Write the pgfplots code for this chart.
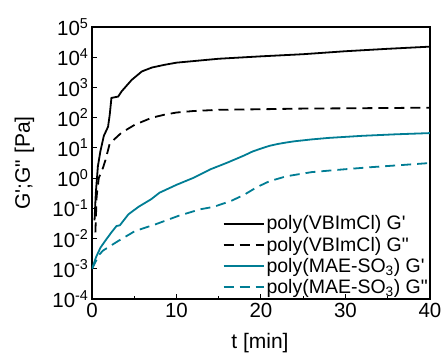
\documentclass[border=0pt]{standalone}
\usepackage{pgfplots}
\pgfplotsset{compat=1.18}
\usepackage{fontspec}
\setmainfont{Liberation Sans}
\definecolor{teal}{RGB}{0,125,148}

\begin{document}
\begin{tikzpicture}
\path[use as bounding box] (-92pt,-58pt) rectangle (352pt,299pt);
\begin{axis}[
  scale only axis,
  width=338pt, height=272pt,
  at={(0pt,0pt)}, anchor=south west,
  ymode=log, log basis y=10,
  xmin=0, xmax=40, ymin=1e-4, ymax=1e5,
  xtick={0,10,20,30,40},
  minor x tick num=1,
  ytick={1e-4,1e-3,1e-2,1e-1,1,1e1,1e2,1e3,1e4,1e5},
  yticklabels={10\textsuperscript{-4},10\textsuperscript{-3},10\textsuperscript{-2},10\textsuperscript{-1},10\textsuperscript{0},10\textsuperscript{1},10\textsuperscript{2},10\textsuperscript{3},10\textsuperscript{4},10\textsuperscript{5}},
  /pgf/number format/assume math mode=true,
  tick align=inside,
  xtick pos=bottom, ytick pos=left,
  major tick length=5pt, minor tick length=3pt,
  every tick/.style={line width=1pt, black},
  axis line style={line width=1.6pt},
  tick label style={font=\fontsize{20.5}{22}\selectfont},
  xticklabel style={yshift=-1pt},
  label style={font=\fontsize{21}{23}\selectfont},
  xlabel={t [min]},
  ylabel={G\textquotesingle;G\textquotedbl{} [Pa]},
  xlabel style={at={(axis description cs:0.497,-0.162)}, anchor=center},
  ylabel style={at={(axis description cs:-0.2,0.5)}, anchor=center},
  legend style={draw=none, fill=none, at={(1,0)}, anchor=south east,
    xshift=1pt, yshift=1pt,
    font=\fontsize{19.5}{21}\selectfont, row sep=1.5pt, inner sep=1pt},
  legend cell align=left,
  legend image code/.code={\draw[#1] plot coordinates {(0pt,0pt) (40pt,0pt)};},
  every axis plot/.append style={line width=1.8pt},
]
% poly(VBImCl) storage modulus
\addplot[black, solid] coordinates {
 (0.3,0.04) (0.45,0.32) (0.7,2.5) (1.0,7.9) (1.4,25) (1.9,50) (2.1,126)
 (2.3,450) (3.1,500) (3.5,740) (4.7,1780) (5.9,3390) (7.1,4570) (8.6,5620)
 (10,6610) (15,8910) (20,10700) (25,12600) (30,15800) (35,19000) (40,22400)};
% poly(VBImCl) loss modulus
\addplot[black, dash pattern=on 10pt off 6pt] coordinates {
 (0.4,0.016) (0.55,0.25) (0.8,1.0) (1.3,2.2) (1.6,4.0) (2.1,14) (3.5,32)
 (5.1,59) (7.1,100) (8.6,126) (10,148) (12,166) (15,182) (20,190)
 (25,200) (30,204) (35,209) (40,214)};
% poly(MAE-SO3) storage modulus
\addplot[teal, solid] coordinates {
 (0,0.001) (0.5,0.0025) (1,0.005) (1.7,0.0095) (2.3,0.016) (2.9,0.026)
 (3.3,0.0275) (4.3,0.063) (5.5,0.112) (7,0.2) (8,0.33) (10,0.6) (12,1.02)
 (14,1.95) (16,3.24) (18,5.6) (19,7.6) (20,9.5) (21,11.7) (22,13.5)
 (23,15.1) (24,16.6) (26,19.1) (28,21.4) (32,25.1) (36,28.2) (40,30.9)};
% poly(MAE-SO3) loss modulus
\addplot[teal, dash pattern=on 10pt off 6pt] coordinates {
 (0,0.001) (0.8,0.0028) (1.3,0.004) (3.1,0.0083) (5.1,0.0178) (7.5,0.0295)
 (10.2,0.056) (12.8,0.093) (14.4,0.112) (16.5,0.178) (18,0.28) (19.5,0.5)
 (21,0.79) (23,1.15) (26,1.58) (29.3,1.9) (33,2.3) (36,2.63) (40,3.16)};
\legend{poly(VBImCl) G\textquotesingle, poly(VBImCl) G\textquotedbl,
  poly(MAE-SO\textsubscript{3}) G\textquotesingle, poly(MAE-SO\textsubscript{3}) G\textquotedbl}
\end{axis}
\end{tikzpicture}
\end{document}
